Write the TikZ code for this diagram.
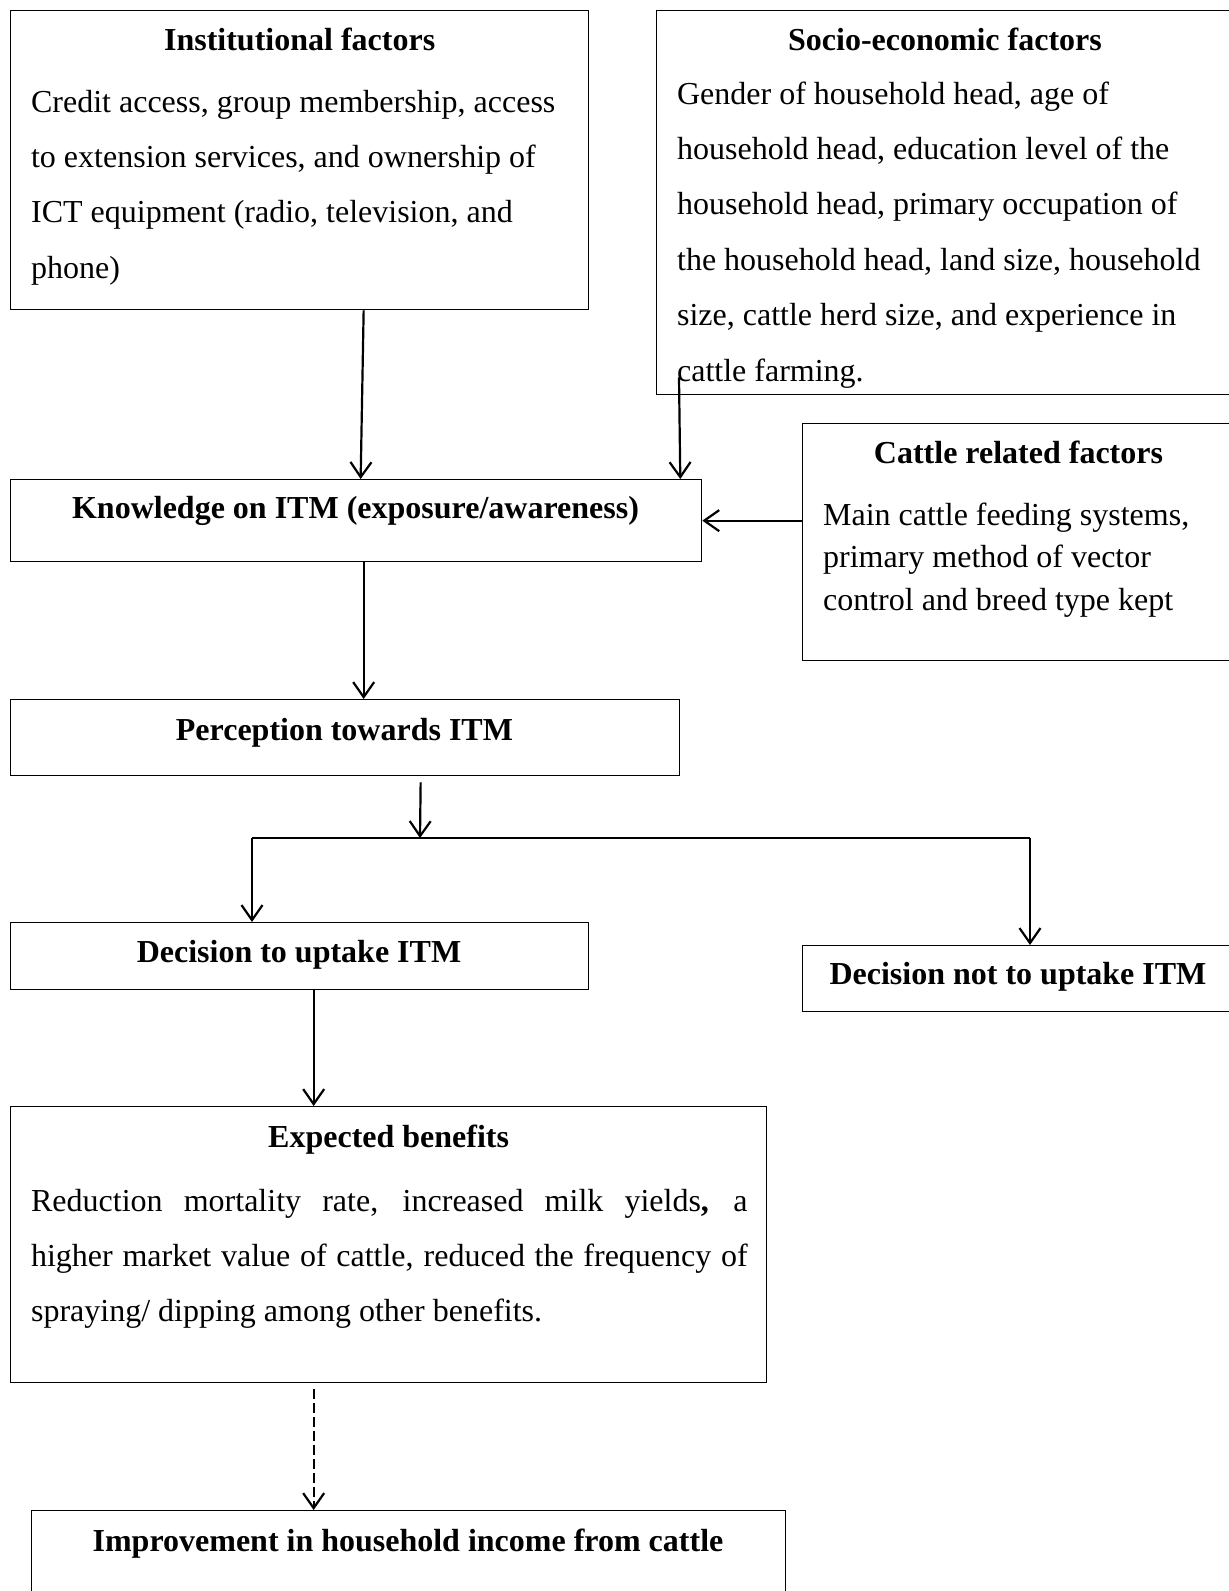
\documentclass[tikz,border=0pt]{standalone}
\usepackage{fontspec}
\setmainfont{Liberation Serif}
\usetikzlibrary{arrows.meta}

\begin{document}
\begin{tikzpicture}[x=1pt,y=-1pt,>={Straight Barb[length=15pt,width=21pt]},line width=2.2pt,
  font=\fontsize{32}{55.4}\selectfont]
\tikzstyle{box}=[draw,line width=1.3pt,inner sep=0pt,anchor=north west]
\tikzstyle{ttl}=[inner sep=0pt,anchor=base,font=\fontsize{32}{55.4}\selectfont\bfseries]
\tikzstyle{txt}=[inner sep=0pt,anchor=base west]
\useasboundingbox (0,0) rectangle (1229,1591);

% boxes
\node[box,minimum width=578pt,minimum height=299pt] (inst) at (10,10) {};
\node[box,minimum width=579pt,minimum height=384pt] (socio) at (656,10) {};
\node[box,minimum width=691pt,minimum height=82pt] (know) at (10,479) {};
\node[box,minimum width=433pt,minimum height=237pt] (cattle) at (802,423) {};
\node[box,minimum width=669pt,minimum height=76pt] (perc) at (10,699) {};
\node[box,minimum width=578pt,minimum height=67pt] (dec) at (10,922) {};
\node[box,minimum width=433pt,minimum height=66pt] (nodec) at (802,945) {};
\node[box,minimum width=756pt,minimum height=276pt] (exp) at (10,1106) {};
\node[box,minimum width=754pt,minimum height=100pt] (impr) at (31,1510) {};

% texts
\node[ttl] (instT) at ([yshift=-40pt]inst.north) {Institutional factors};
\node[txt] (instB) at (30,112) {\parbox[t]{560pt}{Credit access, group membership, access\\
  to extension services, and ownership of\\ICT equipment (radio, television, and\\phone)}};
\node[ttl] (socioT) at (945,50) {Socio-economic factors};
\node[txt] (socioB) at (676,104) {\parbox[t]{560pt}{Gender of household head, age of\\
  household head, education level of the\\household head, primary occupation of\\
  the household head, land size, household\\size, cattle herd size, and experience in\\
  cattle farming.}};
\node[ttl] (cattleT) at (1018.5,463) {Cattle related factors};
\node[txt] (cattleB) at (822,525) {\parbox[t]{400pt}{\fontsize{32}{42.8}\selectfont
  Main cattle feeding systems,\\primary method of vector\\control and breed type kept}};
\node[ttl] (knowT) at (355.5,518) {Knowledge on ITM (exposure/awareness)};
\node[ttl] (percT) at (344.5,740.5) {Perception towards ITM};
\node[ttl] (decT) at (299,962.5) {Decision to uptake ITM};
\node[ttl] (nodecT) at (1018,984.5) {Decision not to uptake ITM};
\node[ttl] (expT) at ([yshift=-41.5pt]exp.north) {Expected benefits};
\node[txt] (expB) at (30,1211) {\parbox[t]{716.5pt}{Reduction mortality rate, increased milk
  yields\textbf{,} a\linebreak higher market value of cattle, reduced the frequency of\linebreak
  spraying/ dipping among other benefits.}};
\node[ttl] (imprT) at (408,1551) {Improvement in household income from cattle};

% connectors
\coordinate (split) at (420,838);
\coordinate (bl) at (252,838);
\coordinate (br) at (1030,838);
\draw[->] ([xshift=64pt]inst.south) -- ([xshift=4.5pt]know.north);
\draw[->] ([xshift=23pt,yshift=18pt]socio.south west) -- ([xshift=-22pt]know.north east);
\draw[->] (cattle.west |- know.east) -- (know.east);
\draw[->] ([xshift=7.5pt]know.south) -- ([xshift=18.5pt]perc.north);
\draw[->] ([xshift=75.5pt,yshift=-6pt]perc.south) -- (split);
\draw[line width=1.8pt] (bl) -- (br);
\draw[->] (bl) -- (bl |- dec.north);
\draw[->] (br) -- (br |- nodec.north);
\draw[->] ([xshift=14pt]dec.south) -- ([xshift=-75pt]exp.north);
\draw[->,dash pattern=on 10pt off 4pt] ([xshift=-75pt,yshift=-6pt]exp.south) -- ([xshift=-95pt]impr.north);
\end{tikzpicture}
\end{document}
